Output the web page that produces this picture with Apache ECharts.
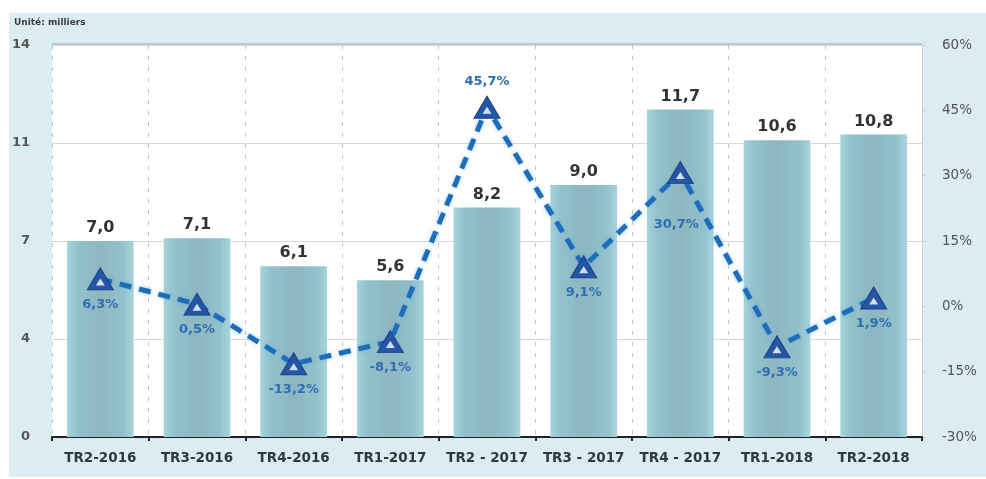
<!DOCTYPE html>
<html><head><meta charset="utf-8">
<script src="https://cdn.jsdelivr.net/npm/echarts@6/dist/echarts.min.js"></script>
<style>html,body{margin:0;padding:0;background:#fff}#c{width:986px;height:479px}</style>
</head><body><div id="c"></div>
<script>
const categories = ['TR2-2016','TR3-2016','TR4-2016','TR1-2017','TR2 - 2017','TR3 - 2017','TR4 - 2017','TR1-2018','TR2-2018'];
const volumes = [7.0, 7.1, 6.1, 5.6, 8.2, 9.0, 11.7, 10.6, 10.8];
const growth = [6.3, 0.5, -13.2, -8.1, 45.7, 9.1, 30.7, -9.3, 1.9];
const growthLabelPos = ['bottom','bottom','bottom','bottom','top','bottom','bottom','bottom','bottom'];
const unitText = 'Unité: milliers';

const fmt = v => v.toFixed(1).replace('.', ',');
const chart = echarts.init(document.getElementById('c'), null, {renderer:'canvas'});
const F = 'DejaVu Sans, Verdana, sans-serif';
chart.setOption({
  animation:false,
  graphic:[
    {type:'rect', left:9, top:13, shape:{width:977, height:464}, style:{fill:'#dbedf2'}, z:-10},
    {type:'rect', left:52, top:43, shape:{width:870, height:2}, style:{fill:'#b8c8cc'}, z:-5},
    {type:'text', left:14, top:18, style:{text:unitText, font:'bold 9px '+F, fill:'#3a3a3a'}}
  ],
  grid:{left:52, right:64, top:45, bottom:42, show:true, backgroundColor:'#ffffff', borderWidth:0},
  xAxis:{type:'category', data:categories, boundaryGap:true,
    axisLine:{lineStyle:{color:'#222', width:2}},
    axisTick:{show:true, interval:0, length:4, lineStyle:{color:'#222', width:2}},
    axisLabel:{interval:0, hideOverlap:false, color:'#2b3a40', fontFamily:F, fontWeight:'bold', fontSize:13.5, margin:14},
    splitLine:{show:true, interval:0, lineStyle:{color:'#c4c4c4', type:[4,7], width:1}}
  },
  yAxis:[
    {type:'value', min:0, max:14, interval:3.5,
     axisLine:{show:false}, axisTick:{show:false},
     axisLabel:{color:'#555', fontFamily:F, fontWeight:'bold', fontSize:13, margin:22, formatter:v=>String(Math.round(v))},
     splitLine:{show:true, lineStyle:{color:'#d8d8d8', width:1}}},
    {type:'value', min:-30, max:60, interval:15, position:'right',
     axisLine:{show:true, lineStyle:{color:'#c8d0d2', width:1}}, axisTick:{show:true, length:4, lineStyle:{color:'#c8d0d2'}},
     axisLabel:{color:'#555', fontFamily:F, fontSize:13.5, margin:20, formatter:v=>v+'%'},
     splitLine:{show:false}}
  ],
  series:[
    {type:'bar', data:volumes, barWidth:'69%', yAxisIndex:0,
     itemStyle:{color:new echarts.graphic.LinearGradient(0,0,1,0,[
        {offset:0,color:'#a6d4dc'},{offset:0.15,color:'#93c2cc'},{offset:0.5,color:'#8db6c0'},{offset:0.85,color:'#93c2cc'},{offset:1,color:'#a8d6de'}])},
     label:{show:true, position:'top', distance:5, color:'#333', fontFamily:F, fontWeight:'bold', fontSize:16, formatter:p=>fmt(p.value)}},
    {type:'line', yAxisIndex:1, z:5,
     lineStyle:{color:'#1f6db8', width:5, type:[12,8], shadowColor:'rgba(80,170,240,0.6)', shadowBlur:4},
     symbol:'triangle', symbolSize:[26,22],
     itemStyle:{color:'#2556a6', borderColor:'#1a3f86', borderWidth:1},
     label:{show:true, color:'#2f6db3', fontFamily:F, fontWeight:'bold', fontSize:13, distance:8,
       formatter:p=>fmt(p.value)+'%'},
     data:growth.map((v,i)=>({value:v, label:{position:growthLabelPos[i], distance: i===6 ? 34 : 8, offset: i===6 ? [-4,0] : [0,0]}}))},
    {type:'scatter', data:growth, yAxisIndex:1, z:6, symbol:'triangle', symbolSize:[9,7], symbolOffset:[0,3],
     itemStyle:{color:'#ffffff'}, silent:true}
  ]
});
</script></body></html>
